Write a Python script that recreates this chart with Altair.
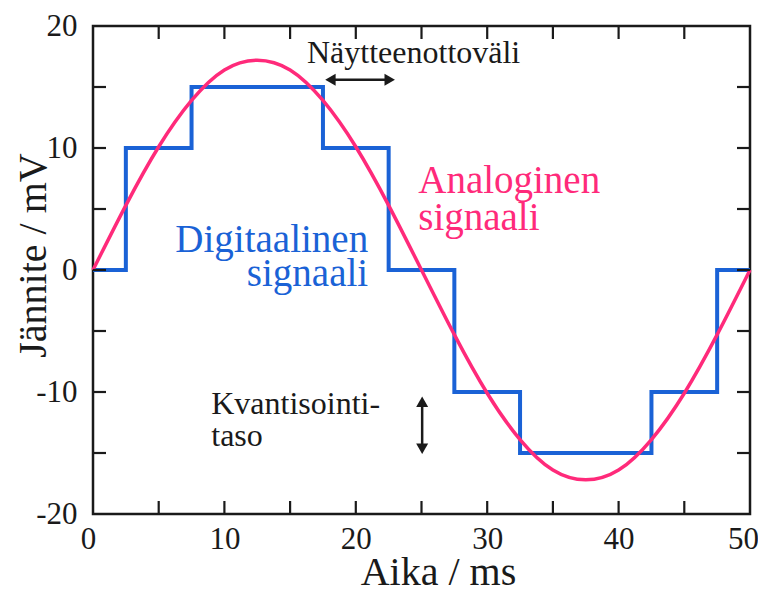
import altair as alt
import pandas as pd

# ---- data ----
analog_t = [0, 2.5, 5, 7.5, 10, 12.5, 15, 17.5, 20, 22.5, 25,
            27.5, 30, 32.5, 35, 37.5, 40, 42.5, 45, 47.5, 50]
analog_v = [0, 5.3, 10.1, 13.9, 16.4, 17.2, 16.4, 13.9, 10.1, 5.3, 0,
            -5.3, -10.1, -13.9, -16.4, -17.2, -16.4, -13.9, -10.1, -5.3, 0]

digital_t = [0, 2.5, 7.5, 17.5, 22.5, 27.5, 32.5, 42.5, 47.5, 50]
digital_v = [0, 10, 15, 10, 0, -10, -15, -10, 0, 0]

x_ticks_minor = [5, 10, 15, 20, 25, 30, 35, 40, 45]
y_ticks_minor = [-15, -10, -5, 0, 5, 10, 15]
x_labels = [0, 10, 20, 30, 40, 50]
y_labels = [-20, -10, 0, 10, 20]

# annotation texts (data coordinates)
black_text = ["Näytteenottoväli"]
black_text_x = [24.4]
black_text_y = [16.97]
kv_text = ["Kvantisointi-", "taso"]
kv_x = [9.0, 9.0]
kv_y = [-11.8, -14.4]
dig_text = ["Digitaalinen", "signaali"]
dig_x = [20.94, 20.94]
dig_y = [1.5, -1.35]
ana_text = ["Analoginen", "signaali"]
ana_x = [24.75, 24.75]
ana_y = [6.34, 3.31]

h_arrow = {"x1": [17.65], "x2": [23.0], "y": [15.6]}
v_arrow = {"x": [25.05], "y1": [-10.35], "y2": [-15.1]}

BLUE = "#1a62d6"
PINK = "#ff2a7a"
INK = "#1a1a1a"
FONT = "Liberation Serif"
W, H = 657, 488
TICK = 13

xs = alt.Scale(domain=[0, 50], nice=False, zero=False)
ys = alt.Scale(domain=[-20, 20], nice=False, zero=False)

label_expr = "datum.value < 0 ? '-' + abs(datum.value) : '' + datum.value"

x_axis = alt.Axis(values=x_labels, ticks=False, domain=False, grid=False,
                  labelFont=FONT, labelFontSize=31, labelColor=INK, labelPadding=10,
                  labelFlush=False, labelExpr=label_expr,
                  labelOffset={"condition": [{"test": "datum.value == 0", "value": -5},
                                             {"test": "datum.value == 50", "value": -7}],
                               "value": 0},
                  title="Aika / ms", titleFont=FONT, titleFontSize=40,
                  titleFontWeight="normal", titleColor=INK,
                  titleX=345, titleY=70, titleBaseline="alphabetic", titleAlign="center")
y_axis = alt.Axis(values=y_labels, ticks=False, domain=False, grid=False,
                  labelFont=FONT, labelFontSize=31, labelColor=INK, labelPadding=16,
                  labelFlush=False, labelExpr=label_expr,
                  title="Jännite / mV", titleFont=FONT, titleFontSize=40,
                  titleFontWeight="normal", titleColor=INK,
                  titleX=-48, titleY=229, titleBaseline="alphabetic", titleAlign="center",
                  titleAngle=270)

analog_df = pd.DataFrame({"t": analog_t, "v": analog_v})
digital_df = pd.DataFrame({"t": digital_t, "v": digital_v})
xt_df = pd.DataFrame({"t": x_ticks_minor})
yt_df = pd.DataFrame({"v": y_ticks_minor})

X = alt.X("t:Q", scale=xs, axis=x_axis)
Y = alt.Y("v:Q", scale=ys, axis=y_axis)

digital = alt.Chart(digital_df).mark_line(
    interpolate="step-after", color=BLUE, strokeWidth=4, strokeJoin="miter"
).encode(x=X, y=Y)

analog = alt.Chart(analog_df).mark_line(
    interpolate="natural", color=PINK, strokeWidth=3.5
).encode(x=X, y=Y)

tick_style = dict(color=INK, strokeWidth=2.2)
bottom_ticks = alt.Chart(xt_df).mark_rule(**tick_style).encode(
    x=alt.X("t:Q", scale=xs), y=alt.value(H), y2=alt.value(H - TICK))
top_ticks = alt.Chart(xt_df).mark_rule(**tick_style).encode(
    x=alt.X("t:Q", scale=xs), y=alt.value(0), y2=alt.value(TICK))
left_ticks = alt.Chart(yt_df).mark_rule(**tick_style).encode(
    y=alt.Y("v:Q", scale=ys), x=alt.value(0), x2=alt.value(TICK))
right_ticks = alt.Chart(yt_df).mark_rule(**tick_style).encode(
    y=alt.Y("v:Q", scale=ys), x=alt.value(W), x2=alt.value(W - TICK))

def text_layer(texts, xs_, ys_, color, size, align):
    df = pd.DataFrame({"label": texts, "tx": xs_, "ty": ys_})
    return alt.Chart(df).mark_text(
        font=FONT, fontSize=size, color=color, align=align, baseline="alphabetic"
    ).encode(x=alt.X("tx:Q", scale=xs), y=alt.Y("ty:Q", scale=ys), text="label:N")

t_black = text_layer(black_text, black_text_x, black_text_y, INK, 32, "center")
t_kv = text_layer(kv_text, kv_x, kv_y, INK, 32, "left")
t_dig = text_layer(dig_text, dig_x, dig_y, BLUE, 39, "right")
t_ana = text_layer(ana_text, ana_x, ana_y, PINK, 39, "left")

ha_df = pd.DataFrame(h_arrow)
va_df = pd.DataFrame(v_arrow)
HEAD = 144
OFF = 5.5
h_line = alt.Chart(ha_df).mark_rule(color=INK, strokeWidth=2.5, xOffset=OFF, x2Offset=-OFF).encode(
    x=alt.X("x1:Q", scale=xs), x2="x2:Q", y=alt.Y("y:Q", scale=ys))
h_head_l = alt.Chart(ha_df).mark_point(shape="triangle-left", filled=True, size=HEAD,
                                        color=INK, opacity=1, xOffset=OFF).encode(
    x=alt.X("x1:Q", scale=xs), y=alt.Y("y:Q", scale=ys))
h_head_r = alt.Chart(ha_df).mark_point(shape="triangle-right", filled=True, size=HEAD,
                                        color=INK, opacity=1, xOffset=-OFF).encode(
    x=alt.X("x2:Q", scale=xs), y=alt.Y("y:Q", scale=ys))
v_line = alt.Chart(va_df).mark_rule(color=INK, strokeWidth=2.5, yOffset=OFF, y2Offset=-OFF).encode(
    x=alt.X("x:Q", scale=xs), y=alt.Y("y1:Q", scale=ys), y2="y2:Q")
v_head_u = alt.Chart(va_df).mark_point(shape="triangle-up", filled=True, size=HEAD,
                                        color=INK, opacity=1, yOffset=OFF).encode(
    x=alt.X("x:Q", scale=xs), y=alt.Y("y1:Q", scale=ys))
v_head_d = alt.Chart(va_df).mark_point(shape="triangle-down", filled=True, size=HEAD,
                                        color=INK, opacity=1, yOffset=-OFF).encode(
    x=alt.X("x:Q", scale=xs), y=alt.Y("y2:Q", scale=ys))

chart = alt.layer(
    digital, analog,
    bottom_ticks, top_ticks, left_ticks, right_ticks,
    t_black, t_kv, t_dig, t_ana,
    h_line, h_head_l, h_head_r, v_line, v_head_u, v_head_d,
).properties(
    width=W, height=H,
    autosize=alt.AutoSizeParams(type="none"),
    padding={"left": 85, "top": 18, "right": 8, "bottom": 72},
    background="white",
).configure_view(
    stroke=INK, strokeWidth=2.5
)

chart.save("out.html", embed_options={"renderer": "svg", "actions": False})
